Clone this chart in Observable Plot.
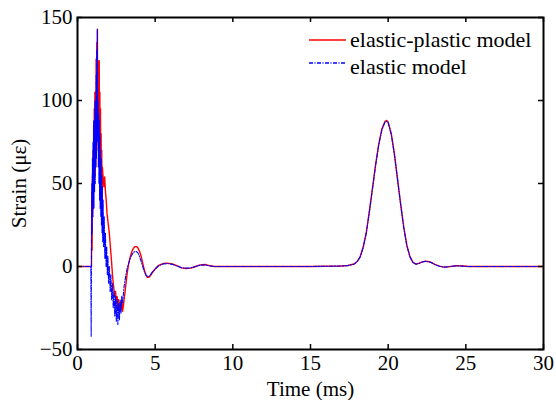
<!DOCTYPE html>
<html><head><meta charset="utf-8">
<script src="https://cdn.jsdelivr.net/npm/d3@7"></script>
<script src="https://cdn.jsdelivr.net/npm/@observablehq/plot@0.6"></script>
<style>body{margin:0;background:#fff}</style>
</head><body><div id="chart"></div>
<script>
const xTicks = [0, 5, 10, 15, 20, 25, 30];
const yTicks = [-50, 0, 50, 100, 150];
const seriesNames = ["elastic-plastic model", "elastic model"];

// elastic-plastic model (red)
const epTime = [0, 0.88, 0.9, 0.92, 0.94, 0.96, 0.98, 1.0, 1.02, 1.04, 1.06, 1.08, 1.1, 1.12, 1.14, 1.16, 1.18, 1.2, 1.22, 1.24, 1.26, 1.28, 1.3, 1.32, 1.34, 1.36, 1.38, 1.4, 1.42, 1.44, 1.46, 1.48, 1.5, 1.52, 1.54, 1.56, 1.58, 1.6, 1.64, 1.7, 1.75, 1.8, 1.85, 1.9, 1.95, 2.0, 2.05, 2.1, 2.15, 2.2, 2.25, 2.3, 2.35, 2.4, 2.45, 2.5, 2.55, 2.6, 2.65, 2.7, 2.75, 2.8, 2.85, 2.9, 2.95, 3.0, 3.1, 3.2, 3.3, 3.4, 3.5, 3.6, 3.7, 3.8, 3.9, 4.0, 4.1, 4.2, 4.3, 4.4, 4.5, 4.6, 4.7, 4.8, 5.0, 5.2, 5.5, 5.8, 6.1, 6.4, 6.7, 7.0, 7.3, 7.6, 7.9, 8.2, 8.5, 8.8, 9.5, 12, 15, 17.0, 17.4, 17.8, 18.0, 18.2, 18.4, 18.6, 18.8, 19.0, 19.2, 19.4, 19.6, 19.8, 19.9, 20.0, 20.2, 20.4, 20.6, 20.8, 21.0, 21.2, 21.4, 21.6, 21.8, 22.0, 22.2, 22.4, 22.6, 22.8, 23.0, 23.3, 23.6, 24.0, 24.4, 24.8, 25.2, 30];
const epStrain = [0, 0, 0, 45, 10, 55, 30, 70, 35, 85, 45, 95, 50, 105, 55, 100, 60, 125, 70, 135, 80, 143, 85, 124, 70, 120, 65, 124, 60, 105, 55, 95, 45, 80, 40, 70, 35, 60, 55, 48, 54, 45, 40, 32, 28, 24, 20, 14, 8, 2, -5, -10, -14, -18, -15, -22, -18, -25, -20, -27, -22, -26, -20, -27, -24, -20, -12, -4, 2, 6, 9, 11, 12, 12, 11, 9, 6, 2, -2, -5, -6.5, -6.5, -5.5, -4, -1.5, 0.5, 1.8, 2, 1.5, 0.5, -0.8, -1.2, -1, 0, 1, 1.2, 0.5, 0, 0, 0, 0, 0.3, 0.6, 1.5, 3, 6, 12, 21, 34, 48, 62, 74, 83, 87.5, 88, 87, 80, 68, 53, 38, 24, 13, 6, 2.5, 1.5, 2, 2.8, 3.2, 3, 2.3, 1.3, 0.2, -0.4, 0, 0.5, 0.3, 0, 0];

// elastic model (blue)
const eTime = [0, 0.86, 0.88, 0.9, 0.92, 0.94, 0.96, 0.98, 1.0, 1.02, 1.04, 1.06, 1.08, 1.1, 1.12, 1.14, 1.16, 1.18, 1.2, 1.22, 1.24, 1.26, 1.28, 1.3, 1.32, 1.34, 1.36, 1.38, 1.4, 1.42, 1.44, 1.46, 1.48, 1.5, 1.52, 1.54, 1.56, 1.58, 1.6, 1.62, 1.65, 1.68, 1.72, 1.76, 1.8, 1.84, 1.88, 1.92, 1.96, 2.0, 2.05, 2.1, 2.15, 2.2, 2.25, 2.3, 2.35, 2.4, 2.45, 2.5, 2.55, 2.6, 2.65, 2.7, 2.75, 2.8, 2.85, 2.9, 3.0, 3.1, 3.2, 3.3, 3.4, 3.5, 3.6, 3.7, 3.8, 3.9, 4.0, 4.1, 4.2, 4.3, 4.4, 4.5, 4.6, 4.7, 4.8, 5.0, 5.2, 5.5, 5.8, 6.1, 6.4, 6.7, 7.0, 7.3, 7.6, 7.9, 8.2, 8.5, 8.8, 9.5, 12, 15, 17.0, 17.4, 17.8, 18.0, 18.2, 18.4, 18.6, 18.8, 19.0, 19.2, 19.4, 19.6, 19.8, 19.9, 20.0, 20.2, 20.4, 20.6, 20.8, 21.0, 21.2, 21.4, 21.6, 21.8, 22.0, 22.2, 22.4, 22.6, 22.8, 23.0, 23.3, 23.6, 24.0, 24.4, 24.8, 25.2, 30];
const eStrain = [0, 0, -42, 10, 50, 20, 65, 30, 75, 40, 88, 35, 80, 45, 100, 50, 95, 60, 115, 65, 130, 75, 143, 80, 100, 60, 92, 50, 88, 40, 80, 35, 70, 30, 65, 25, 55, 20, 48, 15, 40, 12, 30, 5, 20, 0, 12, -5, 6, -10, 0, -15, -5, -20, -10, -25, -15, -30, -18, -33, -20, -35, -22, -32, -20, -28, -18, -22, -12, -6, -1, 2, 5, 7, 8.5, 9, 9, 8, 6, 3, 0, -3, -5, -6, -6, -5, -3.5, -1.5, 0.3, 1.5, 1.8, 1.3, 0.3, -0.8, -1, -0.8, 0, 0.8, 1, 0.4, 0, 0, 0, 0, 0.3, 0.5, 1.4, 2.8, 5.8, 11.5, 20.5, 33.5, 47.5, 61.5, 73.5, 82.5, 87, 87.5, 86.5, 79.5, 67.5, 52.5, 37.5, 23.5, 12.5, 5.8, 2.3, 1.4, 1.9, 2.7, 3.1, 2.9, 2.2, 1.2, 0.1, -0.4, 0, 0.4, 0.2, 0, 0];

const epRows = epTime.map((t, i) => ({t, v: epStrain[i]}));
const eRows = eTime.map((t, i) => ({t, v: eStrain[i]}));

const FONT = "Liberation Serif";
const W = 556, H = 400, ML = 77, MR = 13, MT = 17, MB = 51;
const IW = W - ML - MR, IH = H - MT - MB, TL = 5;

const chart = Plot.plot({
  width: W, height: H,
  marginLeft: ML, marginRight: MR, marginTop: MT, marginBottom: MB,
  style: {fontFamily: FONT, fontSize: "21px", background: "white", color: "black"},
  x: {domain: [0, 30]},
  y: {domain: [-50, 150]},
  marks: [
    Plot.line(epRows, {x: "t", y: "v", stroke: "#ff0000", strokeWidth: 1.4}),
    Plot.line(eRows, {x: "t", y: "v", stroke: "#0000ff", strokeWidth: 1.1, strokeDasharray: "4,1.5,1,1.5"}),
    Plot.axisX({ticks: xTicks, anchor: "bottom", tickSize: 0, tickPadding: 6, fontFamily: FONT, fontSize: 21, label: "Time (ms)", labelAnchor: "center", labelArrow: "none", labelOffset: 46}),
    Plot.axisY({ticks: yTicks, anchor: "left", tickSize: 0, tickPadding: 5, fontFamily: FONT, fontSize: 21, label: "Strain (με)", labelAnchor: "center", labelArrow: "none", labelOffset: 66}),
    // inward tick marks on all four sides
    Plot.tickX(xTicks, {x: d => d, stroke: "black", strokeWidth: 1.5, insetTop: IH - TL}),
    Plot.tickX(xTicks, {x: d => d, stroke: "black", strokeWidth: 1.5, insetBottom: IH - TL}),
    Plot.tickY(yTicks, {y: d => d, stroke: "black", strokeWidth: 1.5, insetRight: IW - TL}),
    Plot.tickY(yTicks, {y: d => d, stroke: "black", strokeWidth: 1.5, insetLeft: IW - TL}),
    Plot.frame({stroke: "black", strokeWidth: 2})
  ]
});

// legend
const svg = d3.select(chart);
const leg = svg.append("g").attr("font-family", FONT).attr("font-size", 22).attr("text-anchor", "start");
const legItems = [
  {name: seriesNames[0], color: "#ff0000", dash: null, ly: 40, ty: 47},
  {name: seriesNames[1], color: "#0000ff", dash: "4,1.5,1,1.5", ly: 63, ty: 74}
];
legItems.forEach(d => {
  leg.append("line").attr("x1", 309).attr("x2", 346).attr("y1", d.ly).attr("y2", d.ly)
    .style("stroke", d.color).style("stroke-width", "1.3px").style("stroke-dasharray", d.dash);
  leg.append("text").attr("x", 350).attr("y", d.ty).attr("fill", "black").attr("text-anchor", "start").text(d.name);
});

document.getElementById("chart").appendChild(chart);
</script>
</body></html>
